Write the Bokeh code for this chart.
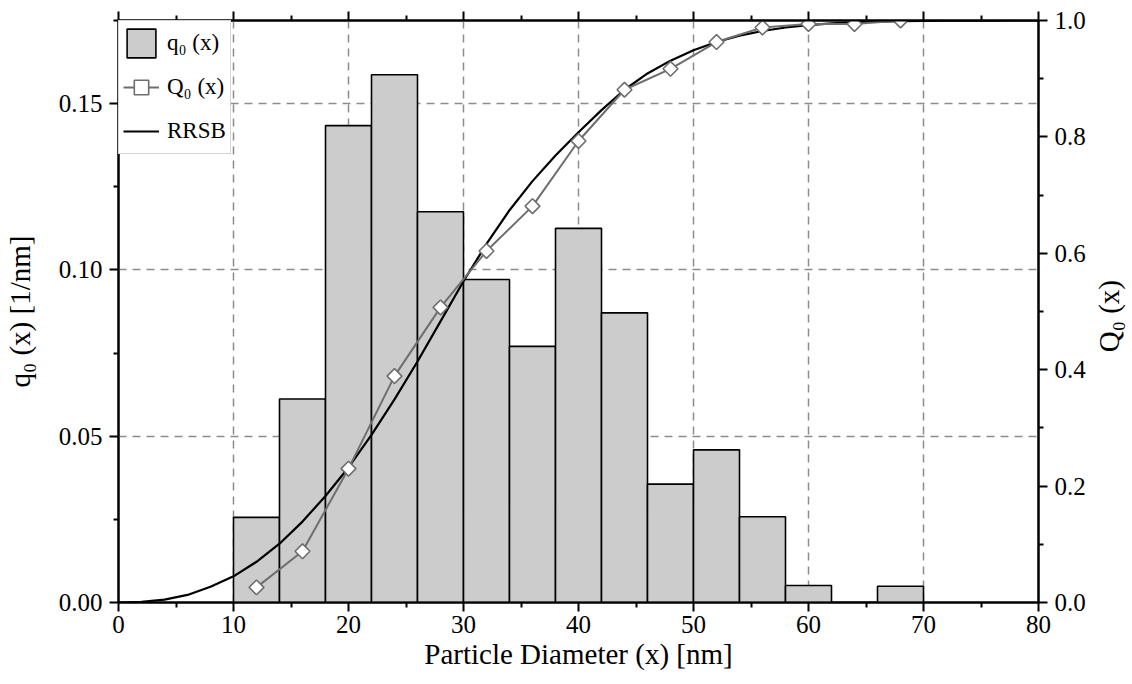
from bokeh.plotting import figure
from bokeh.models import (Range1d, LinearAxis, FixedTicker, NumeralTickFormatter,
                          Legend, LegendItem, CustomJSTickFormatter, Div)
from bokeh.layouts import row
from bokeh.embed import file_html
from bokeh.resources import INLINE
import math

# ---- data ----
bin_centers = [12, 16, 20, 24, 28, 32, 36, 40, 44, 48, 52, 56, 60, 64, 68]
bin_width = 4
q0 = [0.0256, 0.0612, 0.1434, 0.1587, 0.1175, 0.0971, 0.0770, 0.1125,
      0.0871, 0.0356, 0.0459, 0.0258, 0.0051, 0.0, 0.0049]
Q0 = [0.026, 0.088, 0.230, 0.389, 0.507, 0.604, 0.681, 0.793,
      0.881, 0.917, 0.963, 0.988, 0.994, 0.994, 1.0]
rrsb_x = [0, 2, 4, 6, 8, 10, 12, 14, 16, 18, 20, 22, 24, 26, 28, 30, 32, 34, 36, 38,
          40, 42, 44, 46, 48, 50, 52, 54, 56, 58, 60, 62, 64, 66, 68, 70, 72, 74, 76, 78, 80]
rrsb_Q = [0.0, 0.001, 0.005, 0.013, 0.027, 0.045, 0.070, 0.101, 0.139, 0.183,
          0.232, 0.288, 0.349, 0.414, 0.483, 0.552, 0.616, 0.674, 0.724, 0.768,
          0.808, 0.846, 0.881, 0.909, 0.931, 0.949, 0.963, 0.974, 0.982, 0.988,
          0.992, 0.995, 0.997, 0.998, 0.999, 0.9995, 0.9997, 0.9998, 0.9999, 1.0, 1.0]

x_major = [0, 10, 20, 30, 40, 50, 60, 70, 80]
x_minor = [5, 15, 25, 35, 45, 55, 65, 75]
yl_major = [0.0, 0.05, 0.10, 0.15]
yl_minor = [0.025, 0.075, 0.125, 0.175]
yr_major = [0.0, 0.2, 0.4, 0.6, 0.8, 1.0]
yr_minor = [0.1, 0.3, 0.5, 0.7, 0.9]
right_title = "Q\u2080 (x)"

FONT = "Liberation Serif"
TICK_SIZE = "25px"
LABEL_SIZE = "29px"

p = figure(frame_width=920, frame_height=582,
           x_range=Range1d(0, 80), y_range=Range1d(0, 0.175),
           output_backend="svg", toolbar_location=None,
           min_border_left=118, min_border_right=52,
           min_border_top=20, min_border_bottom=76)
p.extra_y_ranges = {"Q": Range1d(0, 1)}
p.background_fill_color = "white"
p.outline_line_color = "black"
p.outline_line_width = 2

# grids
p.xgrid.ticker = FixedTicker(ticks=[10, 20, 30, 40, 50, 60, 70])
p.ygrid.ticker = FixedTicker(ticks=[0.05, 0.10, 0.15])
for g in (p.xgrid, p.ygrid):
    g.grid_line_color = "#8c8c8c"
    g.grid_line_width = 1.5
    g.grid_line_dash = "8 6"

def style_axis(ax):
    ax.axis_line_color = "black"
    ax.axis_line_width = 2
    ax.major_tick_line_color = "black"
    ax.major_tick_line_width = 2
    ax.minor_tick_line_color = "black"
    ax.minor_tick_line_width = 2
    ax.major_tick_out = 9
    ax.major_tick_in = 0
    ax.minor_tick_out = 5
    ax.minor_tick_in = 0
    ax.major_label_text_font = FONT
    ax.major_label_text_font_size = TICK_SIZE
    ax.major_label_text_color = "black"
    ax.major_label_standoff = 7
    ax.axis_label_text_font = FONT
    ax.axis_label_text_font_size = LABEL_SIZE
    ax.axis_label_text_font_style = "normal"
    ax.axis_label_text_color = "black"

# bottom axis
xa = p.xaxis[0]
xa.ticker = FixedTicker(ticks=x_major, minor_ticks=x_minor)
xa.axis_label = "Particle Diameter (x) [nm]"
style_axis(xa)
xa.major_label_standoff = 4
xa.axis_label_standoff = 2

# left axis
ya = p.yaxis[0]
ya.ticker = FixedTicker(ticks=yl_major, minor_ticks=yl_minor)
ya.formatter = NumeralTickFormatter(format="0.00")
ya.axis_label = "q\u2080 (x) [1/nm]"
style_axis(ya)
ya.axis_label_standoff = 20

# right axis (its title is drawn beside the figure, reading bottom-to-top)
ra = LinearAxis(y_range_name="Q",
                ticker=FixedTicker(ticks=yr_major, minor_ticks=yr_minor),
                formatter=NumeralTickFormatter(format="0.0"))
style_axis(ra)
p.add_layout(ra, "right")

# top axis (ticks only, empty labels)
ta = LinearAxis(ticker=FixedTicker(ticks=x_major, minor_ticks=x_minor),
                formatter=CustomJSTickFormatter(code="return ''"))
style_axis(ta)
ta.major_label_standoff = 0
ta.major_label_text_font_size = "1px"
p.add_layout(ta, "above")

# histogram bars
bars = p.vbar(x=bin_centers, width=bin_width, top=q0, bottom=0,
              fill_color="#cccccc", line_color="black", line_width=1.6)

# RRSB fit curve
rline = p.line(rrsb_x, rrsb_Q, y_range_name="Q", line_color="black", line_width=2.2)

# cumulative Q0
qline = p.line(bin_centers, Q0, y_range_name="Q", line_color="#6e6e6e", line_width=2)
qpts = p.scatter(bin_centers, Q0, y_range_name="Q", marker="square", angle=math.pi / 4,
                 size=10.5, fill_color="white", line_color="#6e6e6e", line_width=1.6)

legend = Legend(items=[
    LegendItem(label="q\u2080 (x)", renderers=[bars]),
    LegendItem(label="Q\u2080 (x)", renderers=[qline, qpts]),
    LegendItem(label="RRSB", renderers=[rline]),
], location="top_left")
legend.margin = 0
legend.padding = 4
legend.spacing = 8
legend.glyph_width = 36
legend.glyph_height = 36
legend.label_standoff = 8
legend.label_text_font = FONT
legend.label_text_font_size = "23px"
legend.label_text_color = "black"
legend.border_line_color = "#aaaaaa"
legend.border_line_width = 1
legend.background_fill_color = "white"
legend.background_fill_alpha = 1.0
p.add_layout(legend)

# right-hand axis title, rotated to read bottom-to-top
title_html = (
    '<div style="height:582px; margin-top:20px; display:flex; align-items:center; '
    'justify-content:flex-start;">'
    '<span style="writing-mode:vertical-rl; transform:rotate(180deg); '
    "font-family:'Liberation Serif'; font-size:29px; line-height:1; color:black; "
    'white-space:nowrap;">' + right_title + '</span></div>'
)
rdiv = Div(text=title_html, width=40, height=678)

layout = row(p, rdiv)
open("out.html", "w").write(file_html(layout, INLINE))
